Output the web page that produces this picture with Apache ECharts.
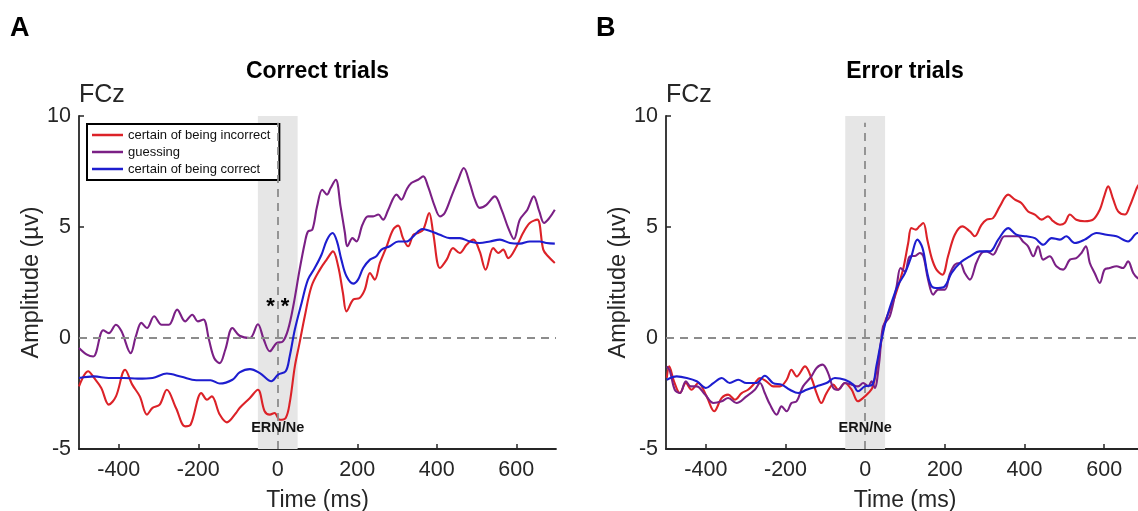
<!DOCTYPE html>
<html>
<head>
<meta charset="utf-8">
<script src="https://cdn.jsdelivr.net/npm/echarts@6/dist/echarts.min.js"></script>
<style>
html,body{margin:0;padding:0;background:#fff;}
#chart{width:1138px;height:511px;}
</style>
</head>
<body>
<div id="chart"></div>
<script>
// ---------- DATA ----------
const seriesNames = ['certain of being incorrect', 'guessing', 'certain of being correct'];
const xTickValues = [-400, -200, 0, 200, 400, 600];
const yTickValues = [-5, 0, 5, 10];
const xRange = [-500, 700];
const yRange = [-5, 10];
const ernWindow = [-50, 50];
const panelTitles = ['Correct trials', 'Error trials'];
const panelLetters = ['A', 'B'];
const channelLabel = 'FCz';

// Panel A: correct trials
const aIncorrectT = [-500,-477,-462,-444,-425,-407,-384,-366,-347,-329,-315,-297,-279,-256,-233,-219,-192,-178,-166,-146,-128,-105,-96,-70,-50,-33,-20,-8,5,20,30,43,54,68,85,106,123,139,152,164,173,190,206,219,232,244,257,274,290,303,315,328,341,353,366,381,391,408,425,441,458,475,492,508,523,542,555,567,580,601,617,634,653,668,680,697];
const aIncorrectV = [-2.18,-1.5,-1.8,-2.25,-3.0,-2.63,-1.43,-2.1,-2.63,-3.45,-3.15,-3.0,-2.33,-3.15,-3.98,-3.9,-2.48,-2.78,-2.63,-3.45,-3.8,-3.38,-3.15,-2.7,-2.33,-3.3,-3.45,-3.38,-3.68,-3.6,-2.93,-1.28,-0.3,0.98,2.33,3.08,3.53,3.9,3.23,2.03,1.2,1.73,1.8,2.18,2.93,2.63,3.38,4.13,4.88,5.06,4.5,4.13,4.65,4.73,4.88,5.63,4.73,3.15,3.53,4.05,3.83,4.2,4.43,3.9,3.08,4.05,3.83,3.98,3.6,4.13,4.73,5.18,5.33,3.98,3.68,3.38];
const aGuessT = [-500,-480,-464,-439,-425,-407,-393,-370,-357,-343,-329,-311,-292,-274,-253,-233,-215,-201,-187,-173,-160,-146,-132,-114,-96,-70,-50,-35,-20,-3,13,26,39,55,68,76,87,99,112,124,133,146,158,169,175,188,198,213,227,240,253,265,278,299,311,324,336,353,366,378,395,408,420,437,454,468,483,496,508,525,546,563,580,594,609,628,644,658,670,683,697];
const aGuessV = [-0.45,-0.75,-0.83,0.35,0.22,0.6,0.3,-0.68,0.07,0.68,0.45,0.98,0.6,0.6,1.28,0.75,1.05,0.75,0.83,-0.08,-0.9,-1.13,-0.53,0.45,0.1,0.0,0.62,-0.08,-0.6,-0.23,-0.15,0.38,1.43,3.08,4.28,4.8,4.88,5.93,6.68,6.46,6.76,7.13,5.93,4.73,4.13,4.5,4.35,5.1,5.48,5.48,5.56,5.33,5.78,6.46,6.23,6.68,6.98,7.13,7.28,6.83,5.93,5.48,5.63,6.38,7.13,7.66,6.98,6.23,5.86,6.0,6.38,5.78,4.95,4.46,5.33,5.78,6.38,5.7,5.18,5.4,5.78];
const aCorrectT = [-500,-462,-425,-388,-352,-315,-279,-242,-205,-169,-146,-114,-96,-70,-45,-16,1,20,30,43,60,76,93,110,124,138,149,160,173,190,202,215,232,248,261,282,303,324,341,364,387,408,433,458,483,508,534,559,584,609,634,659,676,697];
const aCorrectV = [-1.8,-1.73,-1.8,-1.8,-1.83,-1.8,-1.6,-1.75,-1.9,-1.9,-2.05,-1.88,-1.55,-1.4,-1.58,-1.95,-1.65,-1.5,-0.83,0.38,1.58,2.63,3.15,3.75,4.43,4.73,4.35,3.53,2.78,2.45,2.63,3.15,3.53,3.68,3.98,4.13,4.35,4.35,4.58,4.91,4.8,4.65,4.5,4.5,4.35,4.28,4.35,4.43,4.28,4.25,4.35,4.35,4.28,4.25];

// Panel B: error trials
const bIncorrectT = [-498,-492,-480,-465,-450,-436,-419,-398,-379,-360,-344,-327,-310,-294,-277,-264,-248,-231,-214,-197,-185,-172,-151,-135,-122,-110,-97,-80,-68,-51,-34,-18,-5,8,18,28,37,49,66,83,96,108,116,127,136,146,156,167,179,194,208,225,244,263,275,292,305,321,338,359,376,392,409,426,443,459,472,489,501,514,530,551,572,589,600,610,623,635,652,664,677,684,700];
const bIncorrectV = [-1.8,-1.28,-1.95,-2.48,-2.03,-2.33,-2.03,-2.63,-3.3,-2.7,-2.55,-2.78,-2.48,-2.33,-2.03,-1.8,-1.95,-2.18,-2.18,-1.88,-1.43,-1.73,-1.28,-1.8,-2.48,-2.93,-2.48,-2.1,-2.33,-2.03,-2.33,-2.85,-2.7,-2.48,-2.25,-1.5,-0.53,0.68,1.43,2.33,3.15,4.28,4.95,4.88,5.03,5.18,4.43,3.6,3.08,2.85,3.68,4.65,5.03,4.8,4.58,5.1,5.33,5.4,5.93,6.46,6.23,6.08,5.7,5.56,5.33,5.48,5.26,5.1,5.18,5.56,5.33,5.26,5.33,5.78,6.38,6.83,6.23,5.7,5.56,5.93,6.53,6.83,7.2];
const bGuessT = [-498,-490,-478,-465,-450,-438,-423,-402,-381,-360,-344,-323,-298,-277,-264,-252,-239,-222,-210,-197,-185,-172,-156,-135,-122,-107,-93,-80,-68,-51,-34,-18,-5,8,16,24,35,45,62,79,89,100,112,127,137,146,158,171,183,200,212,225,238,250,263,279,292,305,321,334,350,367,384,396,409,422,434,447,463,480,497,514,530,543,554,564,576,589,601,614,631,647,660,673,684,700];
const bGuessV = [-1.28,-1.5,-2.33,-2.48,-1.95,-2.18,-2.18,-2.55,-2.93,-2.85,-2.7,-2.93,-2.63,-2.33,-2.03,-2.48,-3.0,-3.45,-3.08,-3.3,-2.93,-2.85,-2.18,-1.73,-1.35,-1.2,-1.58,-2.25,-2.33,-2.03,-2.1,-2.18,-2.03,-2.18,-1.95,-2.25,-1.13,0.53,0.98,2.33,3.15,3.0,3.68,3.71,3.83,3.68,2.63,1.95,2.18,2.18,2.85,3.3,3.38,2.93,2.63,3.38,3.83,3.9,3.75,4.13,4.58,4.58,4.58,4.35,4.13,3.68,4.13,3.53,3.68,3.23,3.08,3.53,3.6,3.83,4.13,3.38,2.93,2.48,3.08,3.15,3.23,3.15,3.45,2.93,2.7,2.6];
const bCorrectT = [-498,-473,-448,-423,-400,-381,-360,-340,-319,-298,-273,-252,-231,-210,-189,-168,-147,-122,-97,-76,-51,-30,-18,-1,18,28,41,54,70,83,100,116,131,144,156,167,183,200,217,238,263,288,313,334,359,380,405,426,447,468,489,505,526,551,581,606,631,660,684,700];
const bCorrectV = [-1.88,-1.73,-1.8,-1.95,-2.25,-2.03,-1.8,-2.03,-1.88,-2.03,-2.03,-1.7,-2.03,-2.1,-2.33,-2.48,-2.33,-2.18,-2.03,-1.8,-1.88,-2.1,-2.4,-2.18,-2.1,-1.28,-0.08,0.9,1.8,2.4,2.93,3.68,4.43,4.05,2.93,2.33,2.25,2.33,2.93,3.38,3.68,3.9,3.9,4.43,4.95,4.65,4.58,4.5,4.2,4.5,4.43,4.58,4.28,4.43,4.73,4.65,4.58,4.35,4.73,4.6];

// annotations (data coordinates)
const starAnnot = {x: 0, y: 1.4, text: '* *'};
const ernAnnot = {x: 0, y: -4.05, text: 'ERN/Ne'};
const vLineTop = 9.7;

// ---------- STYLE ----------
const FONT = 'Liberation Sans, Arial, Helvetica, sans-serif';
const colors = ['#dc2228', '#7b2085', '#1d1dcf'];
const axisColor = '#262626';
const refColor = '#8c8c8c';

const zip = (t, v) => t.map((x, i) => [x, v[i]]);
const panels = [
  [zip(aIncorrectT, aIncorrectV), zip(aGuessT, aGuessV), zip(aCorrectT, aCorrectV)],
  [zip(bIncorrectT, bIncorrectV), zip(bGuessT, bGuessV), zip(bCorrectT, bCorrectV)]
];
const panelStar = [true, false];

const grids = [
  {left: 79, top: 116, width: 477, height: 333, outerBoundsMode: 'none', containLabel: false},
  {left: 666, top: 116, width: 478, height: 333, outerBoundsMode: 'none', containLabel: false}
];

const xAxes = grids.map((g, i) => ({
  type: 'value', gridIndex: i, min: xRange[0], max: xRange[1],
  name: 'Time (ms)', nameLocation: 'middle', nameGap: 40,
  nameTextStyle: {fontFamily: FONT, fontSize: 23, color: axisColor},
  axisLine: {onZero: false, lineStyle: {color: axisColor, width: 1.8}},
  axisTick: {inside: true, length: 5, lineStyle: {color: axisColor, width: 1.5}, customValues: xTickValues},
  axisLabel: {fontFamily: FONT, fontSize: 21.5, color: axisColor, margin: 10, customValues: xTickValues},
  splitLine: {show: false}
}));
const yAxes = grids.map((g, i) => ({
  type: 'value', gridIndex: i, min: yRange[0], max: yRange[1], interval: 5,
  name: 'Amplitude (µv)', nameLocation: 'middle', nameGap: 34,
  nameTextStyle: {fontFamily: FONT, fontSize: 23.5, color: axisColor},
  axisLine: {onZero: false, lineStyle: {color: axisColor, width: 1.8}},
  axisTick: {inside: true, length: 5, lineStyle: {color: axisColor, width: 1.5}},
  axisLabel: {fontFamily: FONT, fontSize: 21.5, color: axisColor, margin: 8},
  splitLine: {show: false}
}));

const series = [];
panels.forEach((lines, p) => {
  series.push({
    type: 'line', xAxisIndex: p, yAxisIndex: p, data: [], silent: true, z: 1,
    markArea: {silent: true, itemStyle: {color: '#e6e6e6'},
      data: [[{xAxis: ernWindow[0], yAxis: yRange[1]}, {xAxis: ernWindow[1], yAxis: yRange[0]}]]},
    markLine: {silent: true, symbol: 'none', label: {show: false},
      lineStyle: {color: refColor, width: 1.8, type: [8, 6]},
      data: [
        [{coord: [xRange[0], 0]}, {coord: [xRange[1], 0]}],
        [{coord: [0, yRange[0]]}, {coord: [0, vLineTop]}]
      ]}
  });
  lines.forEach((d, k) => {
    series.push({
      type: 'line', name: seriesNames[k], xAxisIndex: p, yAxisIndex: p, data: d,
      smooth: 0.35, symbol: 'none', showSymbol: false, z: 3 + k,
      lineStyle: {color: colors[k], width: 2.1}, itemStyle: {color: colors[k]}
    });
  });
  const ann = [{value: [ernAnnot.x, ernAnnot.y], label: {formatter: ernAnnot.text, fontWeight: 'bold', fontSize: 14.5, color: '#141414'}}];
  if (panelStar[p]) ann.push({value: [starAnnot.x, starAnnot.y], label: {formatter: starAnnot.text, fontSize: 22, fontWeight: 'bold', color: '#000'}});
  series.push({
    type: 'scatter', xAxisIndex: p, yAxisIndex: p, symbolSize: 0, silent: true, z: 10,
    itemStyle: {opacity: 1},
    data: ann,
    label: {show: true, position: 'inside', fontFamily: FONT, opacity: 1}
  });
});

const graphic = [];
[10, 596].forEach((x, i) => graphic.push({type: 'text', left: x, top: 15,
  style: {text: panelLetters[i], font: 'bold 27px ' + FONT, fill: '#000'}}));
grids.forEach((g, i) => {
  graphic.push({type: 'text', x: g.left + g.width / 2, y: 72,
    style: {text: panelTitles[i], font: 'bold 23px ' + FONT, fill: '#000', textAlign: 'center', textVerticalAlign: 'middle'}});
  graphic.push({type: 'text', x: g.left, y: 95,
    style: {text: channelLabel, font: '25px ' + FONT, fill: axisColor, textAlign: 'left', textVerticalAlign: 'middle'}});
});

const chart = echarts.init(document.getElementById('chart'), null, {renderer: 'canvas'});
chart.setOption({
  animation: false,
  backgroundColor: '#fff',
  grid: grids,
  xAxis: xAxes,
  yAxis: yAxes,
  legend: {
    data: seriesNames.map((n, k) => ({name: n, icon: 'rect', itemStyle: {color: colors[k]}})),
    left: 87, top: 124, orient: 'vertical',
    itemWidth: 31, itemHeight: 2.5, itemGap: 1,
    padding: [3, 9, 3, 5], borderColor: '#000', borderWidth: 2, backgroundColor: '#fff',
    textStyle: {fontFamily: FONT, fontSize: 13, color: '#111', lineHeight: 16}
  },
  graphic: graphic,
  series: series
});
</script>
</body>
</html>
